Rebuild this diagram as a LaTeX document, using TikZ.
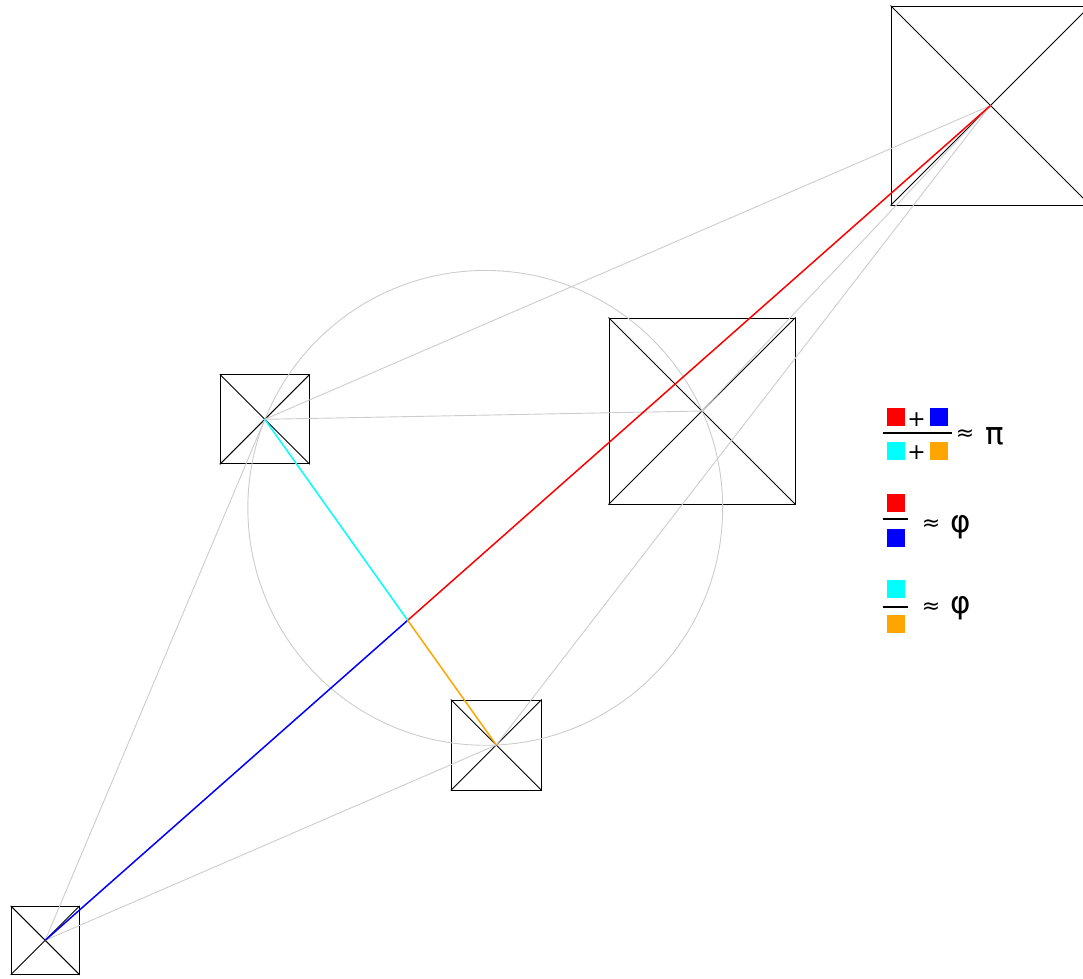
\documentclass[tikz,border=0pt]{standalone}
\usepackage{fontspec}
\setmainfont{DejaVu Sans}
\definecolor{ccyan}{HTML}{00FFFF}
\definecolor{corange}{HTML}{FFA500}
\definecolor{cred}{HTML}{FF0000}
\definecolor{cblue}{HTML}{0000FF}
\begin{document}
\begin{tikzpicture}[x=1pt,y=-1pt,
  sq/.style={draw=black,line width=1pt,rectangle,inner sep=0pt,minimum size=#1},
  diag/.style={draw=black,line width=0.9pt},
  guide/.style={draw=black!20,line width=0.9pt},
  seg/.style={line width=1.5pt},
  leg/.style={rectangle,inner sep=0pt,minimum size=18pt,draw=none},
  sym/.style={inner sep=0pt,font=\fontsize{22}{22}\selectfont},
  big/.style={inner sep=0pt,font=\fontsize{31}{31}\selectfont},
  bar/.style={line width=2pt}]
\useasboundingbox (0,0) rectangle (1083,978);
% squares
\node[sq=68] (s1) at (45.2,940.3) {};
\node[sq=89] (s2) at (264.8,419.3) {};
\node[sq=90] (s3) at (496.3,745) {};
\node[sq=186] (s4) at (702,411) {};
\node[sq=199] (s5) at (990.5,105.5) {};
\foreach \s in {s1,s2,s3,s4,s5}{
  \draw[diag] (\s.north west) -- (\s.south east);
  \draw[diag] (\s.south west) -- (\s.north east);
}
% circle through centres of s2, s3, s4
\coordinate (cc) at (485.25,507.86);
\draw[guide] (cc) circle[radius=237.4];
% gray connectors
\draw[guide] (s1.center) -- (s2.center);
\draw[guide] (s1.center) -- (s3.center);
\draw[guide] (s2.center) -- (s5.center);
\draw[guide] (s2.center) -- (s4.center);
\draw[guide] (s3.center) -- (s5.center);
\draw[guide] (s4.center) -- (s5.center);
% coloured segments
\coordinate (m) at (intersection of s1.center--s5.center and s2.center--s3.center);
\draw[seg,cblue] (s1.center) -- (m);
\draw[seg,cred] (m) -- (s5.center);
\draw[seg,ccyan] (s2.center) -- (m);
\draw[seg,corange] (m) -- (s3.center);
% legend 1
\node[leg,fill=cred] (a1) at (895.8,416.5) {};
\node[sym] (p1) at (916.7,420) {+};
\node[leg,fill=cblue] (b1) at (938.8,416.5) {};
\coordinate (l1a) at (882.7,433.3);
\coordinate (l1b) at (951.7,433.3);
\draw[bar] (l1a) -- (l1b);
\node[leg,fill=ccyan] (c1) at (895.8,450.8) {};
\node[sym] (p2) at (916.7,453) {+};
\node[leg,fill=corange] (d1) at (938.8,450.8) {};
\node[sym] (ap1) at (965,435) {≈};
\node[big] (pi) at (995,436) {π};
% legend 2
\node[leg,fill=cred] (a2) at (895.8,502.8) {};
\coordinate (l2a) at (882.7,519.3);
\coordinate (l2b) at (908.3,519.3);
\draw[bar] (l2a) -- (l2b);
\node[leg,fill=cblue] (b2) at (895.8,537.5) {};
\node[sym] (ap2) at (931,525) {≈};
\node[big] (ph1) at (960.7,526.7) {φ};
% legend 3
\node[leg,fill=ccyan] (c3) at (895.8,589.2) {};
\coordinate (l3a) at (882.7,606.7);
\coordinate (l3b) at (908.3,606.7);
\draw[bar] (l3a) -- (l3b);
\node[leg,fill=corange] (d3) at (895.8,623.8) {};
\node[sym] (ap3) at (931,608.3) {≈};
\node[big] (ph2) at (960.7,608) {φ};
\end{tikzpicture}
\end{document}
